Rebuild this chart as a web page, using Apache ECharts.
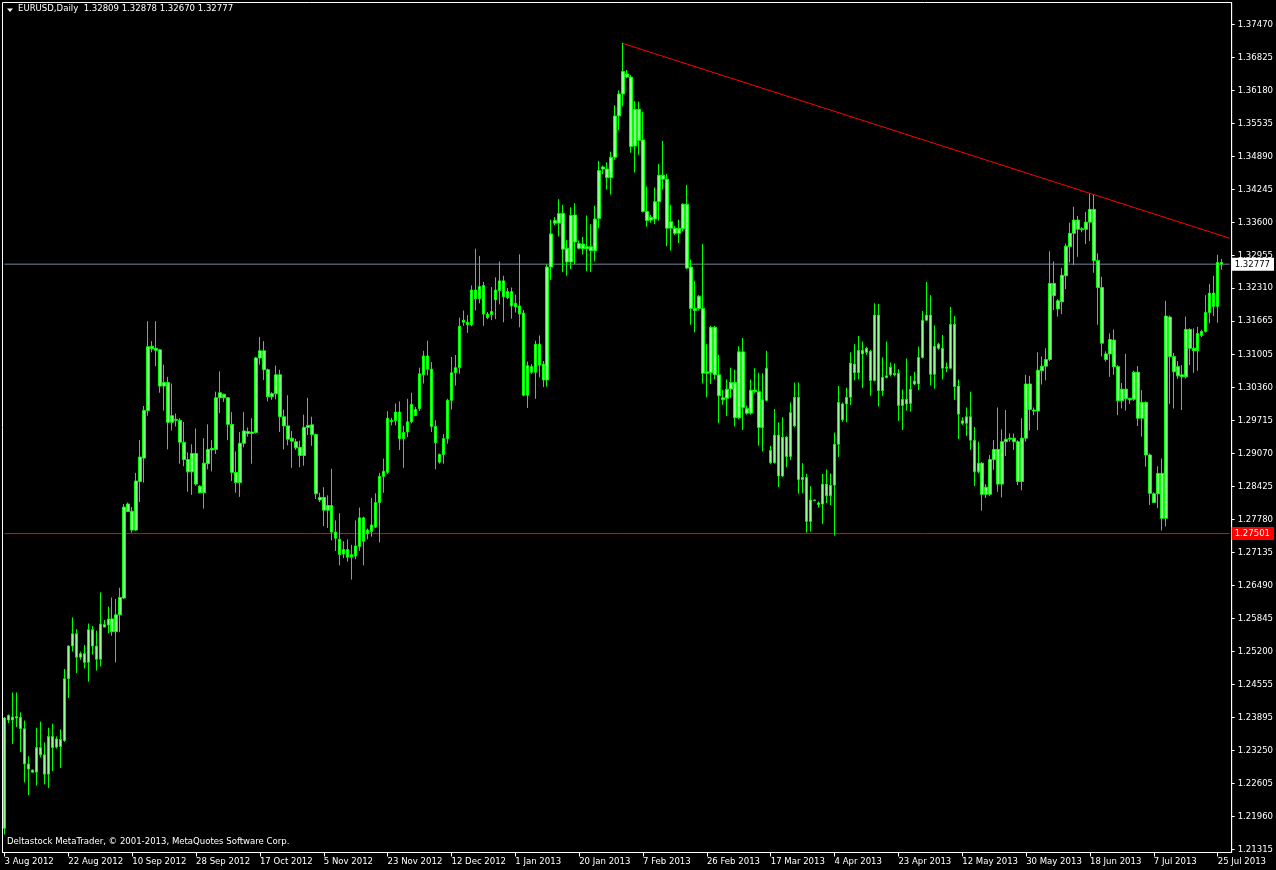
<!DOCTYPE html>
<html><head><meta charset="utf-8">
<script src="https://cdn.jsdelivr.net/npm/echarts@6/dist/echarts.min.js"></script>
<style>html,body{margin:0;padding:0;background:#000;overflow:hidden}#c{width:1276px;height:870px}</style>
</head><body><div id="c"></div>
<script>
// ---- data (EURUSD daily, 3 Aug 2012 .. 26 Jul 2013) ----
const opens = [
1.2173,1.2385,1.2391,1.2389,1.2390,1.2368,1.2299,1.2287,1.2283,1.2331,1.2317,1.2279,1.2353,1.2332,1.2347,1.2345,1.2466,1.2530,1.2554,1.2508,
1.2515,1.2498,1.2562,1.2530,1.2504,1.2572,1.2571,1.2583,1.2558,1.2591,1.2624,1.2793,1.2794,1.2757,1.2852,1.2898,1.2991,1.3112,1.3113,1.3110,
1.3039,1.3046,1.2968,1.2974,1.2972,1.2929,1.2895,1.2871,1.2907,1.2843,1.2830,1.2887,1.2914,1.2915,1.3016,1.3023,1.3016,1.2964,1.2870,1.2850,
1.2927,1.2950,1.2946,1.2948,1.3094,1.3108,1.3071,1.3018,1.3024,1.3061,1.2979,1.2961,1.2937,1.2930,1.2919,1.2903,1.2958,1.2963,1.2944,1.2821,
1.2821,1.2796,1.2805,1.2753,1.2739,1.2710,1.2719,1.2704,1.2706,1.2725,1.2781,1.2750,1.2754,1.2763,1.2811,1.2862,1.2870,1.2972,1.2971,1.2988,
1.2936,1.2949,1.2969,1.2993,1.2995,1.3061,1.3098,1.3072,1.2960,1.2890,1.2905,1.2936,1.3011,1.3065,1.3075,1.3164,1.3164,1.3159,1.3227,1.3210,
1.3236,1.3180,1.3179,1.3208,1.3226,1.3245,1.3212,1.3224,1.3194,1.3196,1.3182,1.3021,1.3077,1.3066,1.3121,1.3082,1.3051,1.3272,1.3358,1.3358,
1.3377,1.3309,1.3282,1.3374,1.3318,1.3308,1.3312,1.3312,1.3304,1.3367,1.3464,1.3464,1.3447,1.3487,1.3568,1.3611,1.3650,1.3644,1.3509,1.3581,
1.3521,1.3381,1.3364,1.3366,1.3400,1.3452,1.3444,1.3348,1.3348,1.3338,1.3347,1.3395,1.3272,1.3191,1.3215,1.3191,1.3064,1.3065,1.3154,1.3061,
1.3016,1.3015,1.3033,1.3046,1.2977,1.3106,1.2995,1.2986,1.3031,1.3028,1.2958,1.3011,1.2913,1.2889,1.2943,1.2863,1.2939,1.2901,1.2961,1.3017,
1.2856,1.2860,1.2774,1.2815,1.2810,1.2808,1.2847,1.2824,1.2845,1.2925,1.3004,1.3004,1.3017,1.3082,1.3065,1.3109,1.3105,1.3107,1.3050,1.3178,
1.3030,1.3056,1.3061,1.3064,1.3064,1.3001,1.3013,1.3005,1.3043,1.3043,1.3095,1.3168,1.3178,1.3062,1.3121,1.3113,1.3074,1.3074,1.3160,1.3039,
1.2971,1.2966,1.2979,1.2933,1.2871,1.2888,1.2841,1.2827,1.2895,1.2915,1.2847,1.2930,1.2935,1.2937,1.2930,1.2852,1.2937,1.3043,1.2992,1.2990,
1.3069,1.3078,1.3091,1.3240,1.3206,1.3204,1.3255,1.3312,1.3338,1.3364,1.3345,1.3346,1.3360,1.3385,1.3285,1.3232,1.3102,1.3102,1.3129,1.3077,
1.3010,1.3033,1.3015,1.3013,1.3066,1.2976,1.3007,1.2904,1.2828,1.2828,1.2868,1.2780,1.3174,1.3097,1.3077,1.3061,1.3057,1.3150,1.3113,1.3108,
1.3138,1.3146,1.3183,1.3221,1.3195,1.32809];
const closes = [
1.2389,1.2394,1.2385,1.2392,1.2368,1.2299,1.2289,1.2283,1.2331,1.2317,1.2279,1.2353,1.2331,1.2348,1.2333,1.2466,1.2530,1.2554,1.2508,1.2515,
1.2498,1.2562,1.2530,1.2504,1.2573,1.2567,1.2583,1.2558,1.2591,1.2625,1.2802,1.2808,1.2757,1.2853,1.2900,1.2991,1.3116,1.3117,1.3109,1.3039,
1.3046,1.2968,1.2981,1.2972,1.2929,1.2895,1.2871,1.2907,1.2847,1.2830,1.2888,1.2915,1.2917,1.3016,1.3026,1.3016,1.2964,1.2870,1.2850,1.2927,
1.2951,1.2946,1.2949,1.3094,1.3108,1.3071,1.3018,1.3024,1.3061,1.2979,1.2961,1.2935,1.2931,1.2918,1.2903,1.2958,1.2962,1.2944,1.2828,1.2816,
1.2796,1.2805,1.2753,1.2741,1.2709,1.2719,1.2704,1.2709,1.2726,1.2781,1.2735,1.2757,1.2767,1.2811,1.2862,1.2872,1.2976,1.2969,1.2988,1.2936,
1.2948,1.2969,1.3003,1.2981,1.3063,1.3098,1.3072,1.2960,1.2928,1.2905,1.2936,1.3011,1.3065,1.3075,1.3156,1.3168,1.3159,1.3227,1.3210,1.3234,
1.3180,1.3173,1.3185,1.3227,1.3245,1.3214,1.3224,1.3196,1.3201,1.3180,1.3021,1.3079,1.3066,1.3121,1.3080,1.3051,1.3272,1.3337,1.3363,1.3377,
1.3307,1.3282,1.3373,1.3321,1.3309,1.3317,1.3308,1.3304,1.3366,1.3461,1.3468,1.3447,1.3487,1.3568,1.3611,1.3655,1.3644,1.3508,1.3581,1.3520,
1.3381,1.3363,1.3369,1.3400,1.3452,1.3444,1.3348,1.3361,1.3338,1.3348,1.3395,1.3270,1.3191,1.3187,1.3191,1.3064,1.3067,1.3154,1.3061,1.3020,
1.3012,1.3033,1.3046,1.2977,1.3106,1.2997,1.2986,1.3031,1.3028,1.2958,1.3012,1.3074,1.2889,1.2943,1.2863,1.2939,1.2901,1.2987,1.3017,1.2856,
1.2860,1.2774,1.2816,1.2816,1.2807,1.2847,1.2824,1.2845,1.2925,1.3007,1.2973,1.3017,1.3084,1.3065,1.3109,1.3102,1.3113,1.3050,1.3178,1.3030,
1.3056,1.3059,1.3076,1.3061,1.3001,1.3013,1.3004,1.3033,1.3049,1.3095,1.3168,1.3178,1.3062,1.3117,1.3113,1.3074,1.3076,1.3160,1.3038,1.2984,
1.2966,1.2979,1.2933,1.2871,1.2888,1.2827,1.2827,1.2895,1.2915,1.2847,1.2930,1.2935,1.2937,1.2930,1.2852,1.2937,1.3043,1.2993,1.2990,1.3070,
1.3078,1.3091,1.3240,1.3216,1.3190,1.3256,1.3313,1.3338,1.3364,1.3346,1.3347,1.3360,1.3385,1.3285,1.3232,1.3123,1.3091,1.3130,1.3077,1.3010,
1.3033,1.3014,1.3012,1.3066,1.2976,1.3007,1.2904,1.2829,1.2811,1.2868,1.2780,1.3176,1.3097,1.3067,1.3059,1.3057,1.3150,1.3113,1.3108,1.3142,
1.3146,1.3183,1.3221,1.3195,1.3281,1.32777];
const lows = [
1.2161,1.2379,1.2338,1.2371,1.2322,1.2263,1.2238,1.2282,1.2257,1.2312,1.2259,1.2252,1.2285,1.2329,1.2291,1.2342,1.2428,1.2519,1.2477,1.2503,
1.2486,1.2460,1.2513,1.2482,1.2490,1.2567,1.2555,1.2550,1.2498,1.2557,1.2622,1.2793,1.2752,1.2755,1.2812,1.2850,1.2981,1.3105,1.3078,1.3026,
1.2991,1.2915,1.2952,1.2960,1.2887,1.2882,1.2832,1.2826,1.2844,1.2829,1.2799,1.2876,1.2872,1.2906,1.2986,1.3008,1.2933,1.2853,1.2830,1.2822,
1.2919,1.2940,1.2887,1.2946,1.3081,1.3051,1.3009,1.3012,1.3013,1.2949,1.2915,1.2923,1.2879,1.2914,1.2880,1.2883,1.2943,1.2922,1.2818,1.2812,
1.2765,1.2761,1.2737,1.2716,1.2688,1.2702,1.2695,1.2660,1.2700,1.2716,1.2688,1.2739,1.2744,1.2761,1.2733,1.2830,1.2867,1.2962,1.2962,1.2914,
1.2879,1.2939,1.2966,1.2981,1.2990,1.3044,1.3060,1.2949,1.2876,1.2887,1.2887,1.2926,1.2993,1.3040,1.3063,1.3157,1.3143,1.3156,1.3187,1.3201,
1.3157,1.3170,1.3168,1.3170,1.3199,1.3164,1.3209,1.3171,1.3183,1.3154,1.3019,1.2996,1.3063,1.3014,1.3056,1.3037,1.3038,1.3247,1.3354,1.3332,
1.3262,1.3255,1.3268,1.3278,1.3307,1.3297,1.3264,1.3262,1.3283,1.3348,1.3454,1.3424,1.3414,1.3482,1.3540,1.3587,1.3642,1.3496,1.3457,1.3492,
1.3379,1.3351,1.3359,1.3356,1.3363,1.3424,1.3313,1.3304,1.3335,1.3319,1.3342,1.3268,1.3159,1.3144,1.3187,1.3044,1.3017,1.3043,1.3052,1.2966,
1.3002,1.2980,1.3016,1.2960,1.2974,1.2953,1.2983,1.2983,1.3026,1.2922,1.2911,1.3009,1.2886,1.2887,1.2841,1.2861,1.2880,1.2894,1.2958,1.2828,
1.2829,1.2752,1.2754,1.2815,1.2801,1.2769,1.2810,1.2806,1.2746,1.2900,1.2969,1.2968,1.3002,1.3050,1.3052,1.3035,1.3100,1.3020,1.3048,1.2999,
1.3020,1.3054,1.3058,1.3058,1.2971,1.2953,1.2991,1.2989,1.3041,1.3031,1.3093,1.3167,1.3040,1.3034,1.3110,1.3052,1.3066,1.3072,1.3012,1.2935,
1.2963,1.2941,1.2914,1.2843,1.2868,1.2795,1.2820,1.2824,1.2875,1.2832,1.2821,1.2902,1.2930,1.2914,1.2845,1.2835,1.2930,1.2952,1.2982,1.2953,
1.3042,1.3050,1.3088,1.3188,1.3175,1.3180,1.3229,1.3281,1.3276,1.3292,1.3340,1.3317,1.3323,1.3261,1.3159,1.3097,1.3087,1.3057,1.3061,1.2982,
1.2995,1.2991,1.3004,1.3010,1.2961,1.2940,1.2881,1.2806,1.2810,1.2800,1.2756,1.2764,1.3004,1.2995,1.3053,1.2992,1.3054,1.3080,1.3065,1.3069,
1.3135,1.3144,1.3162,1.3176,1.3163,1.32670];
const highs = [
1.2391,1.2396,1.2439,1.2439,1.2400,1.2384,1.2314,1.2288,1.2370,1.2382,1.2341,1.2370,1.2378,1.2353,1.2367,1.2485,1.2531,1.2586,1.2563,1.2519,
1.2532,1.2574,1.2569,1.2560,1.2635,1.2581,1.2607,1.2625,1.2622,1.2644,1.2808,1.2811,1.2802,1.2869,1.2933,1.3000,1.3166,1.3127,1.3166,1.3112,
1.3081,1.3057,1.3044,1.2985,1.2976,1.2969,1.2909,1.2925,1.2956,1.2845,1.2937,1.2964,1.2933,1.3028,1.3068,1.3024,1.3017,1.2988,1.2911,1.2949,
1.2988,1.2958,1.2976,1.3096,1.3135,1.3127,1.3073,1.3027,1.3079,1.3071,1.2993,1.3021,1.2951,1.2936,1.2932,1.2983,1.3016,1.2979,1.2946,1.2830,
1.2841,1.2825,1.2877,1.2776,1.2790,1.2735,1.2739,1.2728,1.2776,1.2801,1.2783,1.2760,1.2820,1.2829,1.2869,1.2897,1.2990,1.2977,1.3005,1.3009,
1.2961,1.3014,1.3026,1.2998,1.3075,1.3108,1.3128,1.3086,1.2972,1.2907,1.2945,1.3014,1.3096,1.3100,1.3173,1.3187,1.3178,1.3236,1.3308,1.3294,
1.3243,1.3184,1.3233,1.3252,1.3283,1.3255,1.3231,1.3232,1.3218,1.3297,1.3188,1.3087,1.3082,1.3128,1.3138,1.3088,1.3277,1.3365,1.3370,1.3405,
1.3394,1.3325,1.3389,1.3397,1.3324,1.3331,1.3373,1.3356,1.3392,1.3480,1.3471,1.3477,1.3498,1.3589,1.3618,1.3711,1.3658,1.3648,1.3597,1.3596,
1.3576,1.3430,1.3374,1.3428,1.3474,1.3519,1.3454,1.3394,1.3352,1.3365,1.3397,1.3433,1.3287,1.3245,1.3217,1.3317,1.3121,1.3157,1.3157,1.3100,
1.3031,1.3052,1.3075,1.3071,1.3117,1.3133,1.3001,1.3052,1.3074,1.3065,1.3064,1.3108,1.2922,1.2994,1.2968,1.2978,1.2941,1.3007,1.3046,1.3046,
1.2888,1.2867,1.2843,1.2816,1.2813,1.2867,1.2876,1.2868,1.2948,1.3039,1.3007,1.3036,1.3105,1.3121,1.3137,1.3126,1.3116,1.3110,1.3201,1.3200,
1.3095,1.3126,1.3085,1.3083,1.3072,1.3032,1.3093,1.3059,1.3067,1.3116,1.3186,1.3243,1.3217,1.3158,1.3124,1.3139,1.3085,1.3194,1.3176,1.3052,
1.2978,1.2997,1.3028,1.2959,1.2930,1.2890,1.2847,1.2904,1.2933,1.2997,1.2954,1.2992,1.2946,1.2946,1.2933,1.2976,1.3061,1.3059,1.2997,1.3105,
1.3097,1.3113,1.3303,1.3283,1.3209,1.3270,1.3318,1.3359,1.3390,1.3372,1.3350,1.3380,1.3415,1.3415,1.3299,1.3253,1.3107,1.3142,1.3150,1.3080,
1.3045,1.3102,1.3016,1.3069,1.3078,1.3031,1.3009,1.2907,1.2831,1.2882,1.2897,1.3206,1.3177,1.3104,1.3088,1.3080,1.3175,1.3152,1.3152,1.3155,
1.3149,1.3217,1.3239,1.3255,1.3296,1.32878];
const xTickLabels = ['3 Aug 2012','22 Aug 2012','10 Sep 2012','28 Sep 2012','17 Oct 2012','5 Nov 2012','23 Nov 2012','12 Dec 2012','1 Jan 2013','20 Jan 2013',
  '7 Feb 2013','26 Feb 2013','17 Mar 2013','4 Apr 2013','23 Apr 2013','12 May 2013','30 May 2013','18 Jun 2013','7 Jul 2013','25 Jul 2013'];
const yTickValues = [1.37470,1.36825,1.36180,1.35535,1.34890,1.34245,1.33600,1.32955,1.32310,1.31665,1.31005,1.30360,1.29715,1.29070,1.28425,1.27780,1.27135,1.26490,1.25845,1.25200,1.24555,1.23895,1.23250,1.22605,1.21960,1.21315];
const bidPrice = 1.32777;
const levelPrice = 1.27501;
const trendStart = [155, 1.37098];
const trendEnd = [307, 1.33285];
const headerText = 'EURUSD,Daily  1.32809 1.32878 1.32670 1.32777';
const footerText = 'Deltastock MetaTrader, \u00a9 2001-2013, MetaQuotes Software Corp.';
const yMin = 1.212563, yMax = 1.379008;

// ---- fonts ----
function hasFont(name){
  const c=document.createElement('canvas').getContext('2d');
  const s='abcdefghijklmnopqrstuvwxyzABCDEF0123456789';
  c.font='40px monospace'; const a=c.measureText(s).width;
  c.font='40px "'+name+'", monospace'; const b=c.measureText(s).width;
  c.font='40px serif'; const d=c.measureText(s).width;
  c.font='40px "'+name+'", serif'; const e=c.measureText(s).width;
  return a!==b || d!==e;
}
let FF='Liberation Sans', FS=9.5;
if (hasFont('Liberation Sans Narrow')) { FF='Liberation Sans Narrow'; FS=11; }
else if (hasFont('DejaVu Sans Condensed')) { FF='DejaVu Sans Condensed'; FS=9.5; }

// ---- categories (trading days incl. Sunday sessions) ----
const categories = [];
(function(){
  const mon=['Jan','Feb','Mar','Apr','May','Jun','Jul','Aug','Sep','Oct','Nov','Dec'];
  let d=new Date(Date.UTC(2012,7,3));
  while(categories.length<opens.length){
    const wd=d.getUTCDay();
    const skip = wd===6 || (d.getUTCMonth()===11 && d.getUTCDate()===25);
    if(!skip) categories.push(d.getUTCDate()+' '+mon[d.getUTCMonth()]+' '+d.getUTCFullYear());
    d=new Date(d.getTime()+86400000);
  }
  categories.push('',''); // empty slots on the right edge
})();
const lastCat = categories.length - 1;

const candles = opens.map((o,i)=>[o, closes[i], lows[i], highs[i]]);
function segment(i0, v0, i1, v1){
  const arr = categories.map(()=>null);
  arr[i0] = v0; arr[i1] = v1;
  return arr;
}
const trend = segment(trendStart[0], trendStart[1], trendEnd[0], trendEnd[1]);
const bidLine = segment(0, bidPrice, lastCat, bidPrice);
const levelLine = segment(0, levelPrice, lastCat, levelPrice);

const bodyFill = '#90ff90';
const lbl = (bg, fg, val) => ({show:true, distance:2, formatter:()=>val.toFixed(5), color:fg, backgroundColor:bg,
  padding:[2,4,1,3], fontFamily:FF, fontSize:FS});

const chart = echarts.init(document.getElementById('c'), null, {renderer:'canvas'});
chart.setOption({
  backgroundColor:'#000',
  animation:false,
  grid:{left:2.5, top:2.5, width:1231, height:850, show:true, borderColor:'#fff', borderWidth:1, backgroundColor:'#000'},
  xAxis:{type:'category', data:categories, boundaryGap:true,
    axisLine:{show:true, lineStyle:{color:'#fff', width:1}},
    axisTick:{show:true, interval:15, alignWithLabel:true, length:4, lineStyle:{color:'#fff'}},
    axisLabel:{interval:15, align:'left', margin:4, color:'#fff', fontFamily:FF, fontSize:FS,
      formatter:(v,i)=> (i%16===0 && xTickLabels[i/16]) ? xTickLabels[i/16] : ''},
    splitLine:{show:false}},
  yAxis:{type:'value', position:'right', min:yMin, max:yMax, scale:true,
    axisLine:{show:true, lineStyle:{color:'#fff', width:1}},
    axisTick:{show:true, length:3, lineStyle:{color:'#fff'}, customValues:yTickValues},
    axisLabel:{color:'#fff', margin:6, fontFamily:FF, fontSize:FS, customValues:yTickValues, formatter:v=>v.toFixed(5)},
    splitLine:{show:false}},
  series:[
    {type:'line', data:bidLine, connectNulls:true, symbol:'none', z:1, silent:true,
      lineStyle:{color:'#778899', width:1}, endLabel:lbl('#ffffff','#000000',bidPrice)},
    {type:'line', data:levelLine, connectNulls:true, symbol:'none', z:1, silent:true,
      lineStyle:{color:'#ff0000', width:1}, endLabel:lbl('#ff0000','#ffffff',levelPrice)},
    {type:'candlestick', data:candles, barWidth:3, z:3,
      itemStyle:{color:bodyFill, color0:bodyFill, borderColor:'#00ff00', borderColor0:'#00ff00', borderWidth:1}},
    {type:'line', data:trend, connectNulls:true, symbol:'none', z:4, silent:true,
      lineStyle:{color:'#ff0000', width:1}}
  ],
  graphic:[
    {type:'polygon', shape:{points:[[7,8.5],[13,8.5],[10,12]]}, style:{fill:'#fff'}},
    {type:'text', left:18, top:4, style:{text:headerText, fill:'#fff', font:FS+'px "'+FF+'"'}},
    {type:'text', left:7, top:837, style:{text:footerText, fill:'#fff', font:FS+'px "'+FF+'"'}}
  ]
});
</script>
</body></html>
